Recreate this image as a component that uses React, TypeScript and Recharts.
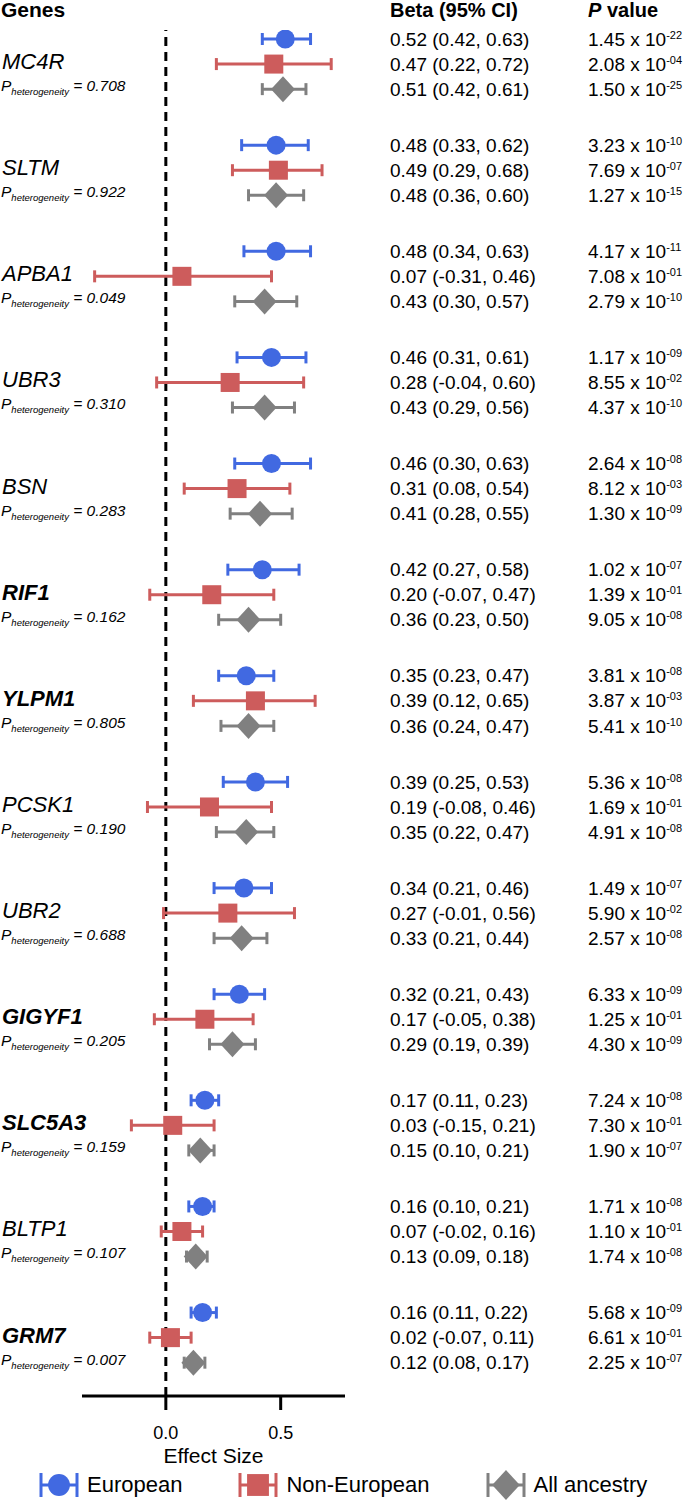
import React from 'react';
import { ScatterChart, Scatter, XAxis, YAxis, ErrorBar, ReferenceLine, Legend, Label } from 'recharts';

const GENES = ['MC4R', 'SLTM', 'APBA1', 'UBR3', 'BSN', 'RIF1', 'YLPM1', 'PCSK1', 'UBR2', 'GIGYF1', 'SLC5A3', 'BLTP1', 'GRM7'];
const BOLD_GENES = ['RIF1', 'YLPM1', 'GIGYF1', 'SLC5A3', 'GRM7'];
const P_HET = ['0.708', '0.922', '0.049', '0.310', '0.283', '0.162', '0.805', '0.190', '0.688', '0.205', '0.159', '0.107', '0.007'];

const EUR_BETA = [0.52, 0.48, 0.48, 0.46, 0.46, 0.42, 0.35, 0.39, 0.34, 0.32, 0.17, 0.16, 0.16];
const EUR_LO = [0.42, 0.33, 0.34, 0.31, 0.30, 0.27, 0.23, 0.25, 0.21, 0.21, 0.11, 0.10, 0.11];
const EUR_HI = [0.63, 0.62, 0.63, 0.61, 0.63, 0.58, 0.47, 0.53, 0.46, 0.43, 0.23, 0.21, 0.22];
const EUR_P = ['1.45e-22', '3.23e-10', '4.17e-11', '1.17e-09', '2.64e-08', '1.02e-07', '3.81e-08', '5.36e-08', '1.49e-07', '6.33e-09', '7.24e-08', '1.71e-08', '5.68e-09'];

const NEU_BETA = [0.47, 0.49, 0.07, 0.28, 0.31, 0.20, 0.39, 0.19, 0.27, 0.17, 0.03, 0.07, 0.02];
const NEU_LO = [0.22, 0.29, -0.31, -0.04, 0.08, -0.07, 0.12, -0.08, -0.01, -0.05, -0.15, -0.02, -0.07];
const NEU_HI = [0.72, 0.68, 0.46, 0.60, 0.54, 0.47, 0.65, 0.46, 0.56, 0.38, 0.21, 0.16, 0.11];
const NEU_P = ['2.08e-04', '7.69e-07', '7.08e-01', '8.55e-02', '8.12e-03', '1.39e-01', '3.87e-03', '1.69e-01', '5.90e-02', '1.25e-01', '7.30e-01', '1.10e-01', '6.61e-01'];

const ALL_BETA = [0.51, 0.48, 0.43, 0.43, 0.41, 0.36, 0.36, 0.35, 0.33, 0.29, 0.15, 0.13, 0.12];
const ALL_LO = [0.42, 0.36, 0.30, 0.29, 0.28, 0.23, 0.24, 0.22, 0.21, 0.19, 0.10, 0.09, 0.08];
const ALL_HI = [0.61, 0.60, 0.57, 0.56, 0.55, 0.50, 0.47, 0.47, 0.44, 0.39, 0.21, 0.18, 0.17];
const ALL_P = ['1.50e-25', '1.27e-15', '2.79e-10', '4.37e-10', '1.30e-09', '9.05e-08', '5.41e-10', '4.91e-08', '2.57e-08', '4.30e-09', '1.90e-07', '1.74e-08', '2.25e-07'];

const X_TICKS = [0, 0.5];

// layout
const GROUP_STEP = 4.236; // one gene block, in row units
const FONT = '"Liberation Sans", Arial, Helvetica, sans-serif';

const SERIES = [
  { name: 'European', color: '#4169e1', shape: 'circle', beta: EUR_BETA, lo: EUR_LO, hi: EUR_HI, p: EUR_P },
  { name: 'Non-European', color: '#cd5c5c', shape: 'square', beta: NEU_BETA, lo: NEU_LO, hi: NEU_HI, p: NEU_P },
  { name: 'All ancestry', color: '#808080', shape: 'diamond', beta: ALL_BETA, lo: ALL_LO, hi: ALL_HI, p: ALL_P },
];

const seriesData = SERIES.map((s, si) =>
  GENES.map((g, gi) => ({
    gene: g,
    x: s.beta[gi],
    y: gi * GROUP_STEP + si,
    err: [s.beta[gi] - s.lo[gi], s.hi[gi] - s.beta[gi]],
  }))
);

// right column rows, in display order
const rows = GENES.flatMap((g, gi) =>
  SERIES.map((s, si) => ({
    y: gi * GROUP_STEP + si,
    ci: `${s.beta[gi].toFixed(2)} (${s.lo[gi].toFixed(2)}, ${s.hi[gi].toFixed(2)})`,
    p: s.p[gi].split('e'),
  }))
);
const geneTicks = GENES.map((g, gi) => gi * GROUP_STEP + 1);
const Y_DOMAIN = [-0.36, (GENES.length - 1) * GROUP_STEP + 2 + 1.33];

function Marker({ shape, color, cx, cy, k = 1 }) {
  if (shape === 'circle') return <circle cx={cx} cy={cy} r={9.5 * k} fill={color} />;
  if (shape === 'square') {
    const h = 9.5 * k;
    return <rect x={cx - h} y={cy - h} width={h * 2} height={h * 2} fill={color} />;
  }
  const w = 12 * k;
  const h = 13 * k;
  return <polygon points={`${cx},${cy - h} ${cx + w},${cy} ${cx},${cy + h} ${cx - w},${cy}`} fill={color} />;
}

const GeneTick = ({ y, index }) => {
  const gene = GENES[index];
  const bold = BOLD_GENES.includes(gene);
  return (
    <g>
      <text x={2} y={y + 5} fontSize={22} fontStyle="italic" fontWeight={bold ? 'bold' : 'normal'} fill="#000">
        {gene}
      </text>
      <text x={1} y={y + 27} fontSize={15.5} fontStyle="italic" fill="#000">
        <tspan>P</tspan>
        <tspan fontSize={9.5} dy={4}>heterogeneity</tspan>
        <tspan dy={-4}> = {P_HET[index]}</tspan>
      </text>
    </g>
  );
};

const RowTick = ({ y, index }) => {
  const r = rows[index];
  if (!r) return null;
  return (
    <g>
      <text x={390} y={y} dy="0.35em" fontSize={19} fill="#000">{r.ci}</text>
      <text x={588} y={y} dy="0.35em" fontSize={19} fill="#000">
        <tspan>{r.p[0]} x 10</tspan>
        <tspan fontSize={11} dy={-7}>{r.p[1]}</tspan>
      </text>
    </g>
  );
};

function LegendIcon({ shape, color }) {
  return (
    <svg width={40} height={30} style={{ flexShrink: 0 }}>
      <line x1={2} y1={15} x2={38} y2={15} stroke={color} strokeWidth={3} />
      <line x1={2} y1={3} x2={2} y2={27} stroke={color} strokeWidth={3} />
      <line x1={38} y1={3} x2={38} y2={27} stroke={color} strokeWidth={3} />
      <Marker shape={shape} color={color} cx={20} cy={15} k={1.15} />
    </svg>
  );
}

const LegendContent = () => (
  <div style={{ display: 'flex', alignItems: 'center', height: 30, width: 685, paddingLeft: 39, boxSizing: 'border-box', fontFamily: FONT }}>
    {SERIES.map((s) => (
      <div key={s.name} style={{ display: 'flex', alignItems: 'center', marginRight: 56, flexShrink: 0, whiteSpace: 'nowrap' }}>
        <LegendIcon shape={s.shape} color={s.color} />
        <span style={{ fontSize: 22, marginLeft: 8, color: '#000' }}>{s.name}</span>
      </div>
    ))}
  </div>
);

export default function App() {
  return (
    <div style={{ position: 'absolute', left: 0, top: 0, width: 685, height: 1500, fontFamily: FONT, background: '#fff' }}>
      <div style={{ position: 'absolute', left: 1, top: -2, fontSize: 21, fontWeight: 'bold' }}>Genes</div>
      <div style={{ position: 'absolute', left: 390, top: -1, fontSize: 20, fontWeight: 'bold' }}>Beta (95% CI)</div>
      <div style={{ position: 'absolute', left: 588, top: -1, fontSize: 20, fontWeight: 'bold' }}>
        <i>P</i> value
      </div>
      <ScatterChart width={685} height={1500} margin={{ top: 30, right: 0, bottom: 0, left: 0 }}>
        <XAxis
          type="number"
          dataKey="x"
          domain={[-0.365, 0.78]}
          allowDataOverflow
          ticks={X_TICKS}
          tickFormatter={(v) => v.toFixed(1)}
          axisLine={{ stroke: '#000', strokeWidth: 3 }}
          tickLine={{ stroke: '#000', strokeWidth: 3 }}
          tickSize={14}
          tickMargin={16}
          tick={{ fill: '#000', fontSize: 18 }}
          height={74}
        >
          <Label value="Effect Size" position="insideBottom" offset={7} fill="#000" fontSize={21} />
        </XAxis>
        <YAxis
          yAxisId="left"
          type="number"
          dataKey="y"
          domain={Y_DOMAIN}
          allowDataOverflow
          reversed
          width={82}
          ticks={geneTicks}
          interval={0}
          axisLine={false}
          tickLine={false}
          tick={GeneTick}
        />
        <YAxis
          yAxisId="right"
          orientation="right"
          type="number"
          dataKey="y"
          domain={Y_DOMAIN}
          allowDataOverflow
          reversed
          width={340}
          ticks={rows.map((r) => r.y)}
          interval={0}
          axisLine={false}
          tickLine={false}
          tick={RowTick}
        />
        <ReferenceLine x={0} yAxisId="left" stroke="#000" strokeWidth={3} strokeDasharray="9 6" />
        {SERIES.map((s, si) => (
          <Scatter
            key={s.name}
            name={s.name}
            yAxisId="left"
            data={seriesData[si]}
            fill={s.color}
            isAnimationActive={false}
            shape={(props) => <Marker shape={s.shape} color={s.color} cx={props.cx} cy={props.cy} />}
          >
            <ErrorBar dataKey="err" direction="x" stroke={s.color} strokeWidth={3} width={6} />
          </Scatter>
        ))}
        <Legend verticalAlign="bottom" content={LegendContent} wrapperStyle={{ left: 0, width: 685 }} />
      </ScatterChart>
    </div>
  );
}
